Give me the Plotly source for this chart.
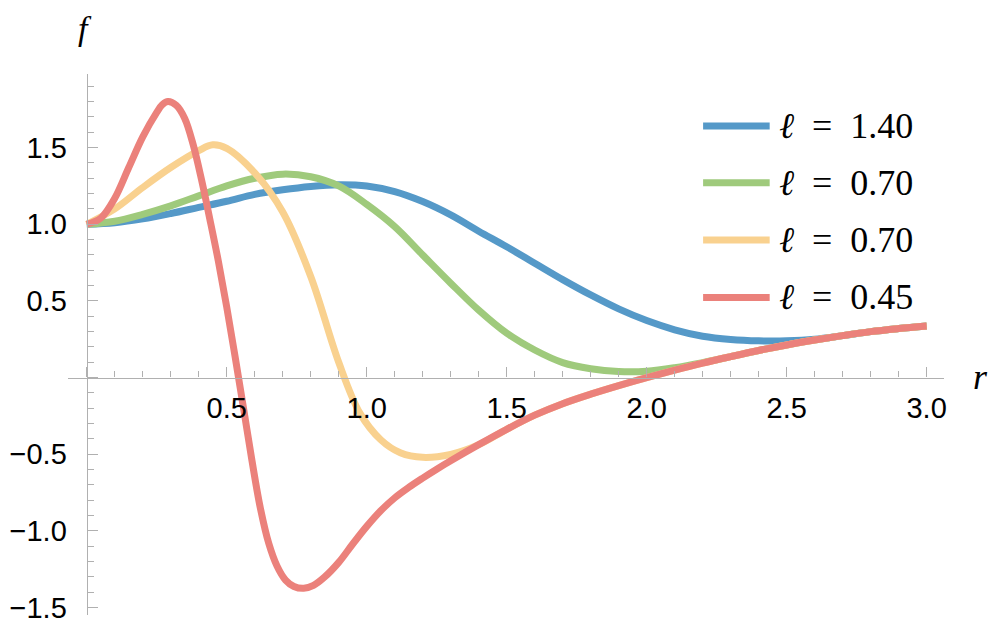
import plotly.graph_objects as go

# curve data (r, f)
r_blue = [0, 0.1, 0.2, 0.3, 0.4, 0.5, 0.6, 0.7, 0.8, 0.9, 1.0, 1.1, 1.2, 1.3, 1.4,
          1.5, 1.6, 1.7, 1.8, 1.9, 2.0, 2.1, 2.2, 2.3, 2.4, 2.5, 2.6, 2.7, 2.8, 2.9, 3.0]
f_blue = [1.0, 1.01, 1.035, 1.07, 1.11, 1.15, 1.195, 1.225, 1.247, 1.258, 1.25, 1.213,
          1.148, 1.061, 0.955, 0.853, 0.746, 0.639, 0.539, 0.448, 0.372, 0.312, 0.270,
          0.249, 0.240, 0.240, 0.250, 0.274, 0.30, 0.32, 0.337]

r_green = [0, 0.1, 0.2, 0.3, 0.4, 0.5, 0.6, 0.7, 0.8, 0.9, 1.0, 1.1, 1.2, 1.3, 1.4,
           1.5, 1.6, 1.7, 1.8, 1.9, 2.0, 2.1, 2.2, 2.3, 2.4, 2.5, 2.6, 2.7, 2.8, 2.9, 3.0]
f_green = [1.0, 1.02, 1.065, 1.12, 1.185, 1.25, 1.30, 1.327, 1.31, 1.25, 1.13, 0.985,
           0.80, 0.616, 0.44, 0.29, 0.18, 0.098, 0.058, 0.04, 0.042, 0.065, 0.098, 0.137,
           0.177, 0.213, 0.245, 0.274, 0.30, 0.32, 0.337]

r_yellow = [0, 0.1, 0.2, 0.3, 0.4, 0.45, 0.5, 0.6, 0.7, 0.8, 0.9, 0.975, 1.05, 1.12,
            1.2, 1.3, 1.4, 1.5, 1.6, 1.7, 1.8, 1.9, 2.0, 2.1, 2.2, 2.3, 2.4, 2.5, 2.6,
            2.7, 2.8, 2.9, 3.0]
f_yellow = [1.0, 1.10, 1.24, 1.37, 1.48, 1.518, 1.495, 1.335, 1.08, 0.66, 0.10, -0.23,
            -0.405, -0.49, -0.52, -0.50, -0.437, -0.337, -0.245, -0.17, -0.108, -0.052,
            0.0, 0.049, 0.095, 0.137, 0.177, 0.213, 0.245, 0.274, 0.30, 0.32, 0.337]

r_red = [0, 0.05, 0.1, 0.15, 0.2, 0.25, 0.27, 0.29, 0.32, 0.35, 0.38, 0.41, 0.44, 0.47,
         0.50, 0.53, 0.56, 0.59, 0.62, 0.65, 0.68, 0.71, 0.74, 0.775, 0.81, 0.85, 0.90,
         0.95, 1.0, 1.05, 1.1, 1.15, 1.2, 1.25, 1.3, 1.4, 1.5, 1.6, 1.7, 1.8, 1.9, 2.0,
         2.1, 2.2, 2.3, 2.4, 2.5, 2.6, 2.7, 2.8, 2.9, 3.0]
f_red = [1.0, 1.04, 1.17, 1.37, 1.57, 1.73, 1.78, 1.80, 1.775, 1.69, 1.52, 1.29, 1.03,
         0.76, 0.46, 0.135, -0.20, -0.54, -0.85, -1.08, -1.23, -1.32, -1.362, -1.374,
         -1.355, -1.30, -1.205, -1.085, -0.97, -0.868, -0.784, -0.716, -0.655, -0.597,
         -0.542, -0.437, -0.337, -0.245, -0.17, -0.108, -0.052, 0.0, 0.049, 0.095,
         0.137, 0.177, 0.213, 0.245, 0.274, 0.30, 0.32, 0.337]

legend_labels = ["1.40", "0.70", "0.70", "0.45"]
x_ticks = [0, 0.5, 1.0, 1.5, 2.0, 2.5, 3.0]
y_ticks = [-1.5, -1.0, -0.5, 0, 0.5, 1.0, 1.5]

COLORS = ["#5599C8", "#9FCA7C", "#F9D18F", "#EB817B"]
AXIS_GREY = "#B0B0B0"
X_RANGE = [-0.067, 3.062]
Y_RANGE = [-1.548, 1.98]


def fmt_tick(v):
    if v == 0:
        return ""
    s = f"{abs(v):.1f}"
    return ("\u2212" + s) if v < 0 else s


series = [(r_blue, f_blue), (r_green, f_green), (r_yellow, f_yellow), (r_red, f_red)]

fig = go.Figure()
for (rs, fs), col in zip(series, COLORS):
    fig.add_trace(go.Scatter(
        x=rs, y=fs, mode="lines",
        line=dict(color=col, width=7, shape="spline", smoothing=1.0),
        showlegend=False, hoverinfo="skip",
    ))

# axes cross at the origin, Mathematica style
x_pos = (0 - Y_RANGE[0]) / (Y_RANGE[1] - Y_RANGE[0])
y_pos = (0 - X_RANGE[0]) / (X_RANGE[1] - X_RANGE[0])

tick_font = dict(family="Liberation Sans, Arial, sans-serif", size=29, color="black")
minor_ticks = dict(tickmode="linear", tick0=0, dtick=0.1, ticks="inside",
                   ticklen=6, tickwidth=1.2, tickcolor=AXIS_GREY)

fig.update_xaxes(
    range=X_RANGE, showgrid=False, zeroline=False, automargin=False,
    showline=True, linecolor=AXIS_GREY, linewidth=1.3,
    anchor="free", position=x_pos,
    tickmode="array", tickvals=x_ticks, ticktext=[fmt_tick(v) for v in x_ticks],
    ticks="inside", ticklen=10, tickwidth=1.2, tickcolor=AXIS_GREY,
    minor=minor_ticks, tickfont=tick_font, ticklabelstandoff=4,
    ticklabeloverflow="allow",
)
fig.update_yaxes(
    range=Y_RANGE, showgrid=False, zeroline=False, automargin=False,
    showline=True, linecolor=AXIS_GREY, linewidth=1.3,
    anchor="free", position=y_pos,
    tickmode="array", tickvals=y_ticks, ticktext=[fmt_tick(v) for v in y_ticks],
    ticks="inside", ticklen=10, tickwidth=1.2, tickcolor=AXIS_GREY,
    minor=minor_ticks, tickfont=tick_font, ticklabelstandoff=14,
    ticklabeloverflow="allow",
)

# hand-drawn legend (long line samples, wide row spacing)
serif = "Liberation Serif, DejaVu Serif, serif"
row_y = [0.904, 0.799, 0.693, 0.587]
for lab, col, yy in zip(legend_labels, COLORS, row_y):
    fig.add_shape(type="line", xref="paper", yref="paper",
                  x0=0.725, x1=0.801, y0=yy, y1=yy,
                  line=dict(color=col, width=7))
    fig.add_annotation(xref="paper", yref="paper", x=0.809, y=yy,
                       xanchor="left", yanchor="middle", showarrow=False,
                       text=f"<i>\u2113</i>\u2002=\u2002{lab}",
                       font=dict(family=serif, size=36, color="black"))

fig.add_annotation(xref="paper", yref="paper", x=0.0194, y=1.085,
                   xanchor="center", yanchor="middle", showarrow=False,
                   text="<i>f</i>", font=dict(family=serif, size=34, color="black"))
fig.add_annotation(xref="paper", yref="paper", x=1.042, y=0.44,
                   xanchor="center", yanchor="middle", showarrow=False,
                   text="<i>r</i>", font=dict(family=serif, size=36, color="black"))

fig.update_layout(
    width=997, height=628, autosize=False,
    margin=dict(l=68, r=53, t=74, b=13, pad=0),
    plot_bgcolor="white", paper_bgcolor="white",
)

# drop the default 8px body margin so the figure fills the window exactly
fig.write_html("out.html", config={"displayModeBar": False},
               post_script="document.body.style.margin = '0';")
